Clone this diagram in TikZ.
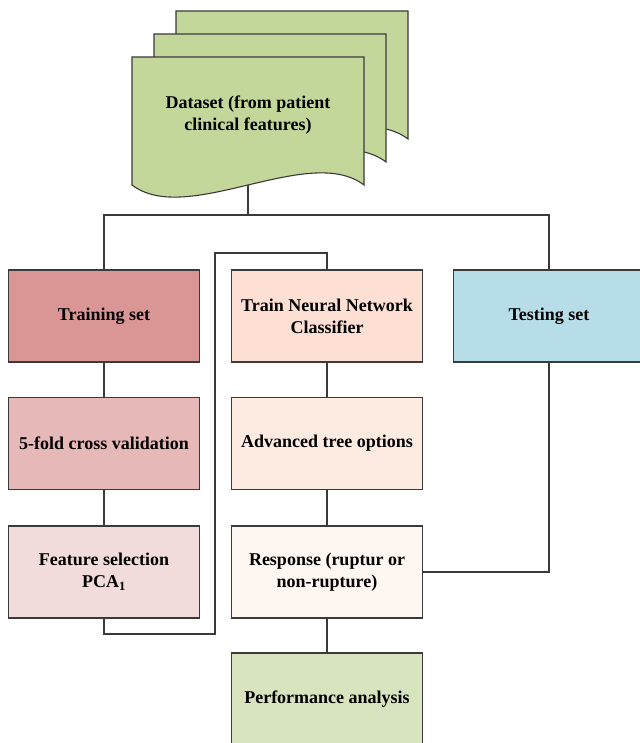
\documentclass[tikz,border=0pt]{standalone}
\usepackage{fontspec}
\setmainfont{Liberation Serif}
\usetikzlibrary{positioning}

\definecolor{dsgreen}{HTML}{C4D79B}
\definecolor{trainred}{HTML}{DA9694}
\definecolor{cvred}{HTML}{E6B8B7}
\definecolor{featred}{HTML}{F2DCDB}
\definecolor{nnpeach}{HTML}{FDDFD4}
\definecolor{advpeach}{HTML}{FDEBE1}
\definecolor{resppeach}{HTML}{FEF6F0}
\definecolor{testblue}{HTML}{B7DEE8}
\definecolor{perfgreen}{HTML}{D7E4BD}
\definecolor{edge}{HTML}{3A3A3A}

\begin{document}
\begin{tikzpicture}[x=1pt, y=-1pt,
		box/.style={draw=edge, line width=1.1pt, rectangle, minimum width=191pt, minimum height=92pt, align=center, font=\fontsize{18}{22}\selectfont\bfseries},
		link/.style={draw=edge, line width=1.1pt}]
		\useasboundingbox (0, 0) rectangle (639, 743);

		% dataset documents, back to front
		\foreach \dx/\dy/\nm in {44/-46/back, 22/-23/mid, 0/0/front}
		{
			\filldraw[fill=dsgreen, draw=edge, line width=1.1pt, shift={(\dx, \dy)}]
				(132, 185) -- (132, 57) -- (364, 57) -- (364, 185)
				.. controls (309, 143) and (187, 227) .. (132, 185) -- cycle;
		}
		\node[font=\fontsize{18}{22}\selectfont\bfseries, align=center] (data) at (248, 115) {Dataset (from patient\\clinical features)};
		\coordinate (dsbot) at (248, 185);
		\coordinate (split) at (248, 215);

		% boxes
		\node[box, fill=trainred] (train) at (104, 316) {Training set};
		\node[box, fill=cvred] (cv) at (104, 443.5) {5-fold cross validation};
		\node[box, fill=featred] (feat) at (104, 572) {Feature selection\\PCA\textsubscript{1}};

		\node[box, fill=nnpeach] (nn) at (327, 316) {Train Neural Network\\Classifier};
		\node[box, fill=advpeach] (adv) at (327, 443.5) {Advanced tree options};
		\node[box, fill=resppeach] (resp) at (327, 572) {Response (ruptur or\\non-rupture)};
		\node[box, fill=perfgreen] (perf) at (327, 699) {Performance analysis};

		\node[box, fill=testblue] (test) at (549, 316) {Testing set};

		% connectors
		\coordinate (loopa) at (215, 634);
		\coordinate (loopb) at (215, 253);

		\draw[link] (dsbot) -- (split);
		\draw[link] (train.north) |- (split) -| (test.north);
		\draw[link] (train) -- (cv);
		\draw[link] (cv) -- (feat);
		\draw[link] (feat.south) |- (loopa) -- (loopb) -| (nn.north);
		\draw[link] (nn) -- (adv);
		\draw[link] (adv) -- (resp);
		\draw[link] (resp) -- (perf);
		\draw[link] (resp.east) -| (test.south);

	\end{tikzpicture}
\end{document}
